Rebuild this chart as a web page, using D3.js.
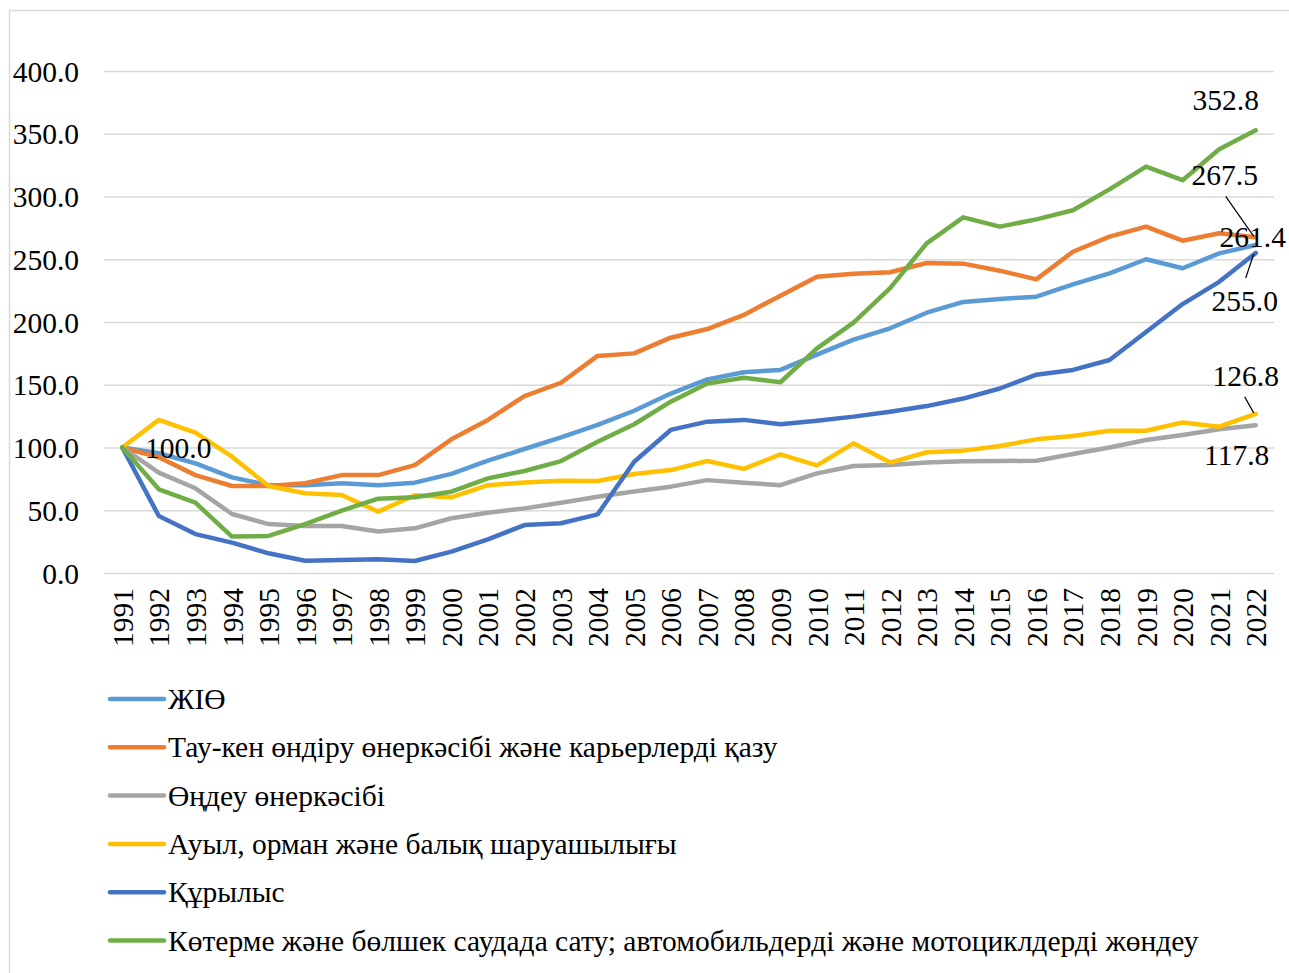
<!DOCTYPE html>
<html lang="kk">
<head>
    <meta charset="UTF-8">
    <title>Салалар бойынша нақты өсу индекстері</title>
    <script src="https://d3js.org/d3.v7.min.js"></script>
    <style>
        body {
            margin: 0;
            background: #fff;
            font-family: "Liberation Serif", "Times New Roman", serif;
        }
        .axis text {
            font-family: "Liberation Serif", "Times New Roman", serif;
            font-size: 29.5px;
            fill: #000;
        }
        .axis path { display: none; }
        .grid line { stroke: #d9d9d9; stroke-width: 1.5; }
        .grid path { display: none; }
        .series { fill: none; stroke-width: 4.5; stroke-linejoin: round; stroke-linecap: round; }
        .lbl { font-size: 29.5px; fill: #000; }
        .legend text { font-size: 29.5px; fill: #000; }
    </style>
</head>
<body>
<div id="chart"></div>
<script>
    // years on the x axis
    const years = d3.range(1991, 2023);

    // y axis tick values
    const yTicks = [0, 50, 100, 150, 200, 250, 300, 350, 400];

    // series names (legend order)
    const names = [
        "ЖІӨ",
        "Тау-кен өндіру өнеркәсібі және карьерлерді қазу",
        "Өңдеу өнеркәсібі",
        "Ауыл, орман және балық шаруашылығы",
        "Құрылыс",
        "Көтерме және бөлшек саудада сату; автомобильдерді және мотоциклдерді жөндеу"
    ];
    const colors = ["#5b9bd5", "#ed7d31", "#a5a5a5", "#ffc000", "#4472c4", "#70ad47"];

    // values, 1991..2022
    const gdp = [100, 95.4, 87.4, 76.2, 70, 70, 71.5, 70, 72, 79, 89.5, 98.8, 108, 118, 129.3, 143,
        154.3, 160, 161.8, 174, 186, 195, 207.4, 216, 218.3, 220.2, 230, 238.8, 250, 242.8, 254.7, 261.4];
    const mining = [100, 92.2, 78, 69.3, 69.3, 71.5, 78, 78, 86, 106.5, 122, 141, 151.6, 173, 175, 187.5,
        194.4, 205.6, 221, 236, 238.5, 239.6, 247, 246.5, 240.9, 234, 256, 268, 276, 264.8, 270.7, 267.5];
    const manufacturing = [100, 80, 67.5, 47, 39, 37.5, 37.5, 33, 35.6, 43.6, 48, 51.5, 56, 60.8, 65, 68.8,
        74, 72, 70, 79.4, 85.3, 86, 88, 89, 89.2, 89.5, 94.8, 100, 106, 110, 114.5, 117.8];
    const agriculture = [100, 122, 111.8, 92.7, 69.3, 63.5, 62.2, 48.9, 62, 60.3, 70, 72.2, 73.6, 73.3, 78.9, 82,
        89.2, 83, 94.5, 85.8, 103.3, 88, 96.2, 97.5, 101.2, 106.5, 109.2, 113.4, 113.4, 120, 116.6, 126.8];
    const construction = [100, 45.4, 31, 24.2, 15.7, 9.8, 10.3, 10.9, 9.6, 17, 26.8, 38.2, 39.6, 46.7, 88.7, 114,
        120.6, 122, 118.5, 121.4, 124.6, 128.5, 133, 139, 147, 158, 161.8, 169.7, 192, 214.3, 232, 255];
    const trade = [100, 66.7, 56, 29, 29.5, 39, 49.7, 59.2, 60.3, 64.8, 75.4, 81.3, 89.2, 104.6, 118.5, 136.5,
        151, 155.5, 152, 179, 199.5, 227, 262.7, 283.4, 276, 281.8, 289, 305.7, 323.8, 313, 337.6, 352.8];

    const seriesValues = [gdp, mining, manufacturing, agriculture, construction, trade];

    const width = 1289, height = 973;
    const plot = { left: 104, right: 1274, top: 71, bottom: 573 };

    const svg = d3.select("#chart").append("svg")
        .attr("width", width)
        .attr("height", height);

    // chart frame
    svg.append("rect")
        .attr("x", 9.5).attr("y", 10.5)
        .attr("width", width).attr("height", height)
        .attr("fill", "none").attr("stroke", "#d9d9d9").attr("stroke-width", 1.5);

    const x = d3.scalePoint()
        .domain(years)
        .range([plot.left, plot.right])
        .padding(0.5);

    const y = d3.scaleLinear()
        .domain([0, 400])
        .range([plot.bottom, plot.top]);

    // gridlines
    svg.append("g")
        .attr("class", "grid")
        .attr("transform", `translate(${plot.left},0)`)
        .call(d3.axisLeft(y).tickValues(yTicks).tickSize(-(plot.right - plot.left)).tickFormat(""));

    // y axis labels
    svg.append("g")
        .attr("class", "axis")
        .attr("transform", `translate(${plot.left},0)`)
        .call(d3.axisLeft(y).tickValues(yTicks).tickSize(0).tickPadding(25).tickFormat(d3.format(".1f")))
        .selectAll("text").attr("dy", "0.34em");

    // x axis labels, rotated
    svg.append("g")
        .attr("class", "axis")
        .attr("transform", `translate(0,${plot.bottom})`)
        .call(d3.axisBottom(x).tickSize(0))
        .selectAll("text")
        .attr("transform", "rotate(-90)")
        .attr("text-anchor", "end")
        .attr("x", -15)
        .attr("y", 0)
        .attr("dy", "0.34em");

    const line = d3.line()
        .x((d, i) => x(years[i]))
        .y(d => y(d));

    seriesValues.forEach((vals, k) => {
        svg.append("path")
            .datum(vals)
            .attr("class", "series")
            .attr("stroke", colors[k])
            .attr("d", line);
    });

    // data labels: series index, year, offset of the text baseline, optional leader start
    const fmt = d3.format(".1f");
    const labels = [
        { s: 0, yr: 1991, dx: 56, dy: 10.5 },
        { s: 5, yr: 2022, dx: -30, dy: -20 },
        { s: 1, yr: 2022, dx: -31, dy: -52, leader: [-30, -41] },
        { s: 0, yr: 2022, dx: -3, dy: 2 },
        { s: 4, yr: 2022, dx: -11, dy: 58, leader: [-10, 25] },
        { s: 3, yr: 2022, dx: -10, dy: -28, leader: [-11, -17] },
        { s: 2, yr: 2022, dx: -19, dy: 40 }
    ];

    labels.forEach(l => {
        const v = seriesValues[l.s][years.indexOf(l.yr)];
        const px = x(l.yr), py = y(v);
        if (l.leader) {
            svg.append("line")
                .attr("x1", px + l.leader[0]).attr("y1", py + l.leader[1])
                .attr("x2", px - 2).attr("y2", py - (l.leader[1] > 0 ? -1 : 1))
                .attr("stroke", "#000").attr("stroke-width", 1.2);
        }
        svg.append("text")
            .attr("class", "lbl")
            .attr("x", px + l.dx)
            .attr("y", py + l.dy)
            .attr("text-anchor", "middle")
            .text(fmt(v));
    });

    // legend
    const legend = svg.selectAll(".legend")
        .data(names)
        .enter().append("g")
        .attr("class", "legend")
        .attr("transform", (d, i) => `translate(108, ${699 + i * 48.3})`);

    legend.append("line")
        .attr("x1", 2).attr("x2", 56)
        .attr("y1", 0).attr("y2", 0)
        .attr("stroke", (d, i) => colors[i])
        .attr("stroke-width", 4.5)
        .attr("stroke-linecap", "round");

    legend.append("text")
        .attr("x", 60)
        .attr("y", 0)
        .attr("dy", "0.34em")
        .text(d => d);
</script>
</body>
</html>
